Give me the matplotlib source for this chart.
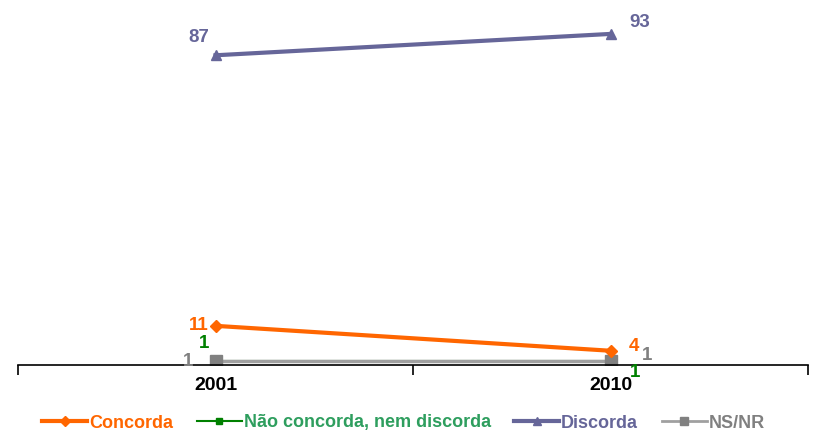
import matplotlib.pyplot as plt

years = ['2001', '2010']
concorda = [11, 4]
nao_concorda = [1, 1]
discorda = [87, 93]
nsnr = [1, 1]

plt.rcParams['font.family'] = ['Liberation Sans', 'DejaVu Sans']

fig = plt.figure(figsize=(8.15, 4.38), dpi=100)
ax = fig.add_axes([18/815, 73/438, 790/815, 356/438])

x = [0, 1]
c_or, c_gr, c_pu, c_ng = '#FF6600', '#008000', '#666699', '#808080'

ax.plot(x, nsnr, color='#A0A0A0', lw=2.5, marker='s', ms=8, mfc=c_ng, mec=c_ng, zorder=2)
ax.plot(x, nao_concorda, color=c_gr, lw=1.5, marker='s', ms=6, zorder=1)
ax.plot(x, concorda, color=c_or, lw=3, marker='D', ms=6, zorder=3)
ax.plot(x, discorda, color=c_pu, lw=3, marker='^', ms=7, zorder=3)

kw = dict(fontsize=13.5, fontweight='bold', ha='center', va='center', textcoords='offset points')
ax.annotate(str(discorda[0]), (x[0], discorda[0]), xytext=(-12, 13), color=c_pu, **kw)
ax.annotate(str(discorda[1]), (x[1], discorda[1]), xytext=(21, 8), color=c_pu, **kw)
ax.annotate(str(concorda[0]), (x[0], concorda[0]), xytext=(-12, 0), color=c_or, **kw)
ax.annotate(str(concorda[1]), (x[1], concorda[1]), xytext=(17, 3), color=c_or, **kw)
ax.annotate(str(nao_concorda[0]), (x[0], nao_concorda[0]), xytext=(-8, 13), color=c_gr, **kw)
ax.annotate(str(nao_concorda[1]), (x[1], nao_concorda[1]), xytext=(18, -8), color=c_gr, **kw)
ax.annotate(str(nsnr[0]), (x[0], nsnr[0]), xytext=(-20, 0), color=c_ng, **kw)
ax.annotate(str(nsnr[1]), (x[1], nsnr[1]), xytext=(26, 4), color=c_ng, **kw)

ax.set_xlim(-0.5, 1.5)
ax.set_ylim(0, 100)
for s in ['top', 'right', 'left']:
    ax.spines[s].set_visible(False)
ax.spines['bottom'].set_linewidth(1.2)
ax.set_yticks([])
ax.set_xticks([-0.5, 0.5, 1.5])
ax.set_xticklabels([])
ax.set_xticks(x, minor=True)
ax.set_xticklabels(years, minor=True, fontsize=14, fontweight='bold')
ax.tick_params(axis='x', which='major', length=7, width=1.2, direction='out')
ax.tick_params(axis='x', which='minor', length=0, pad=9)

handles = [
    plt.Line2D([], [], color=c_or, lw=3, marker='D', ms=5),
    plt.Line2D([], [], color=c_gr, lw=1.5, marker='s', ms=5),
    plt.Line2D([], [], color=c_pu, lw=3, marker='^', ms=6),
    plt.Line2D([], [], color='#A0A0A0', lw=2, marker='s', ms=6, mfc=c_ng, mec=c_ng),
]
labels = ['Concorda', 'Não concorda, nem discorda', 'Discorda', 'NS/NR']
leg = fig.legend(handles, labels, loc='center', bbox_to_anchor=(0.495, 15/438), ncol=4,
                 frameon=False, handlelength=2.5, handletextpad=0.1,
                 columnspacing=1.3, prop={'weight': 'bold', 'size': 13})
for t, c in zip(leg.get_texts(), [c_or, '#2E9E5E', c_pu, c_ng]):
    t.set_color(c)

fig.savefig('out.png', dpi=100)
